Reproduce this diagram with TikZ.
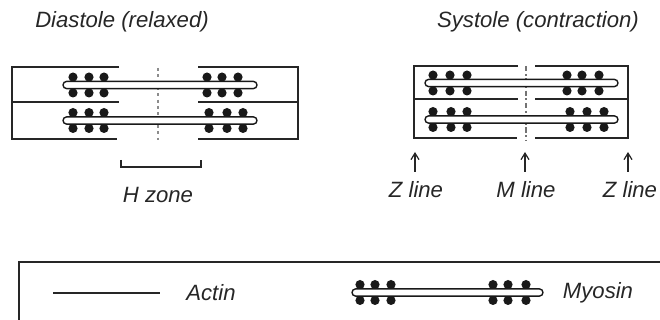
\documentclass[tikz,border=0pt]{standalone}
\usepackage{fontspec}
\setmainfont{Liberation Sans}
\usetikzlibrary{arrows.meta,positioning}

% one thick filament: dots first, then the white rod over them
\newcommand{\myosin}[4]{%
  \foreach \dx in {#4} {
    \fill[head] (\dx,#3-7.9) circle[radius=0.092cm];
    \fill[head] (\dx,#3+7.9) circle[radius=0.092cm];
  }
  \draw[rod] (#1,#3-3.6) rectangle (#2,#3+3.6);
}

\begin{document}
\begin{tikzpicture}[x=0.02cm, y=-0.02cm, >={Straight Barb[length=1.3mm,width=1.6mm]},
                    font=\fontsize{12.6}{14}\selectfont\itshape]
    \tikzstyle{actin} = [draw=black!85, line width=0.9pt]
    \tikzstyle{rod} = [draw=black!90, fill=white, line width=0.8pt, rounded corners=0.072cm]
    \tikzstyle{head} = [black!90]
    \tikzstyle{mline} = [draw=black!45, line width=0.7pt, dash pattern=on 1.8pt off 1.8pt]
    \tikzstyle{label} = [text=black!85, inner sep=0pt]
    \tikzstyle{pointer} = [->, draw=black!85, line width=0.7pt]

    \useasboundingbox (0,0) rectangle (660,320);

    % titles
    \node[label] (dia) at (122,22) {Diastole (relaxed)};
    \node[label] (sys) at (538,22) {Systole (contraction)};

    % relaxed sarcomeres
    \draw[mline] (158,68) -- (158,140);
    \draw[actin] (119,67) -- (12,67) -- (12,139) -- (117,139);
    \draw[actin] (12,102) -- (119,102);
    \draw[actin] (198,67) -- (298,67) -- (298,139) -- (198,139);
    \draw[actin] (198,102) -- (298,102);
    \myosin{63}{257}{85}{73,89,104,207,222,238}
    \myosin{63}{257}{120.5}{73,89,104,209,227,243}

    % H zone bracket
    \coordinate (hl) at (121,160);
    \coordinate (hr) at (201,160);
    \draw[actin] (hl) -- ++(0,7) -| (hr);
    \node[label] (hzone) at (158,195) {H zone};

    % contracted sarcomeres
    \draw[mline, draw=black!55, dash pattern=on 3pt off 1.5pt on 1pt off 1.5pt] (526,66) -- (526,141);
    \draw[actin] (518,66) -- (414,66) -- (414,138) -- (517,138);
    \draw[actin] (414,99) -- (518,99);
    \draw[actin] (535,66) -- (628,66) -- (628,138) -- (535,138);
    \draw[actin] (535,99) -- (628,99);
    \myosin{425}{618}{83}{433,450,467,567,582,599}
    \myosin{425}{618}{119.5}{433,451,467,570,587,604}

    % line markers
    \node[label] (zlineL) at (416,190) {Z line};
    \node[label] (mline)  at (526,190) {M line};
    \node[label] (zlineR) at (630,190) {Z line};
    \coordinate (zarrL) at (415,152);
    \coordinate (marr)  at (525,152);
    \coordinate (zarrR) at (628,152);
    \draw[pointer] (415,172) -- (zarrL);
    \draw[pointer] (525,172) -- (marr);
    \draw[pointer] (628,172) -- (zarrR);

    % legend
    \draw[actin] (19,320) |- (660,262);
    \coordinate (al) at (53,293);
    \coordinate (ar) at (160,293);
    \draw[actin] (al) -- (ar);
    \node[label] (actin) at (211,293) {Actin};
    \myosin{352}{543}{292.5}{360,375,391,493,508,526}
    \node[label] (myosin) at (598,293) {Myosin};
\end{tikzpicture}
\end{document}
